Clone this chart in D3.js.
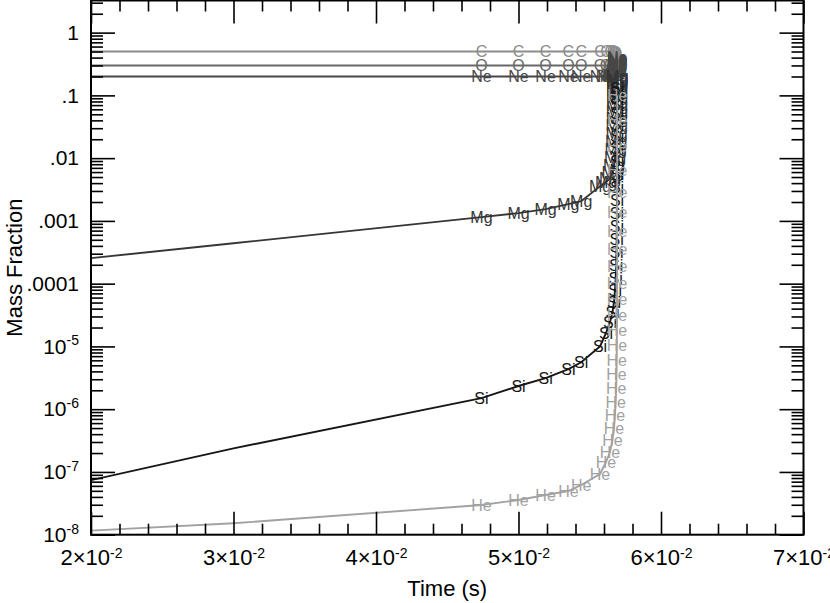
<!DOCTYPE html>
<html>
<head>
<meta charset="utf-8">
<script src="https://cdn.jsdelivr.net/npm/d3@7"></script>
<style>
  body { margin: 0; background: #fff; }
  text { font-family: "Liberation Sans", Arial, Helvetica, sans-serif; }
</style>
</head>
<body>
<svg id="chart" width="830" height="603"></svg>
<script>
// time steps (s) of the burn; the last ones pile up near the runaway
var times = [0.02, 0.03, 0.0474, 0.0500, 0.0519, 0.0535, 0.0544,
  0.055719, 0.056140, 0.056421, 0.056596, 0.056702, 0.056772, 0.056821, 0.056856,
  0.056877, 0.056891, 0.056902, 0.056909, 0.056914, 0.056917, 0.056919, 0.056921,
  0.056922, 0.056923, 0.056924, 0.056925, 0.056926, 0.056927, 0.056928, 0.056929];

var carbon = [0.5, 0.5, 0.5, 0.5, 0.5, 0.5, 0.5,
  0.50, 0.50, 0.50, 0.50, 0.49, 0.49, 0.47, 0.45, 0.44, 0.42, 0.41, 0.39,
  0.38, 0.36, 0.35, 0.34, 0.33, 0.31, 0.30, 0.29, 0.28, 0.27, 0.26, 0.25];

var oxygen = [0.3, 0.3, 0.3, 0.3, 0.3, 0.3, 0.3,
  0.30, 0.30, 0.30, 0.30, 0.30, 0.30, 0.29, 0.29, 0.29, 0.28, 0.28, 0.28,
  0.27, 0.27, 0.27, 0.26, 0.26, 0.26, 0.25, 0.25, 0.25, 0.24, 0.24, 0.24];

var neon = [0.2, 0.2, 0.2, 0.2, 0.2, 0.2, 0.2,
  0.20, 0.20, 0.20, 0.21, 0.21, 0.22, 0.23, 0.24, 0.25, 0.26, 0.27, 0.28,
  0.29, 0.30, 0.31, 0.32, 0.33, 0.34, 0.35, 0.36, 0.37, 0.38, 0.39, 0.40];

var magnesium = [2.55e-4, 4.4e-4, 1.15e-3, 1.33e-3, 1.54e-3, 1.85e-3, 2.06e-3,
  3.57e-3, 4.13e-3, 4.79e-3, 5.96e-3, 7.71e-3, 1.03e-2, 1.39e-2, 1.86e-2,
  2.49e-2, 3.34e-2, 4.32e-2, 5.58e-2, 6.95e-2, 8.67e-2, 0.104, 0.121,
  0.140, 0.156, 0.168, 0.181, 0.187, 0.194, 0.201, 0.201];

var silicon = [7.4e-8, 2.38e-7, 1.5e-6, 2.34e-6, 3.13e-6, 4.35e-6, 5.6e-6,
  1.0e-5, 1.63e-5, 2.44e-5, 3.52e-5, 5.08e-5, 7.9e-5, 1.22e-4, 1.97e-4,
  3.18e-4, 5.1e-4, 8.2e-4, 1.33e-3, 2.13e-3, 3.44e-3, 5.5e-3, 8.9e-3,
  1.44e-2, 2.23e-2, 3.47e-2, 5.2e-2, 7.2e-2, 9.3e-2, 0.112, 0.13];

var helium = [1.16e-8, 1.52e-8, 2.97e-8, 3.57e-8, 4.29e-8, 4.96e-8, 6.2e-8,
  9.26e-8, 1.44e-7, 2.08e-7, 3.22e-7, 5.0e-7, 8.05e-7, 1.30e-6, 2.17e-6,
  3.62e-6, 6.05e-6, 1.05e-5, 1.82e-5, 3.15e-5, 5.66e-5, 1.02e-4, 1.90e-4,
  3.54e-4, 6.85e-4, 1.38e-3, 2.86e-3, 6.42e-3, 1.55e-2, 4.02e-2, 0.100];

var names = ["C", "O", "Ne", "Mg", "Si", "He"];
var colors = ["#8c8c8c", "#686868", "#474747", "#363636", "#161616", "#a2a2a2"];

var xMajor = [0.02, 0.03, 0.04, 0.05, 0.06, 0.07];
var yMajorExp = [-8, -7, -6, -5, -4, -3, -2, -1, 0];

var svg = d3.select("#chart"),
    plotLeft = 91, plotRight = 803.5, plotTop = 0.5, plotBottom = 534.7;

var x = d3.scaleLinear().domain([0.02, 0.07]).range([plotLeft, plotRight]);
var y = d3.scaleLog().domain([1e-8, 3.25]).range([plotBottom, plotTop]);

var xMinor = d3.range(10, 36).filter(function(i) { return i % 5 !== 0; })
    .map(function(i) { return i / 500; });
var yMinor = [];
yMajorExp.forEach(function(e) {
  for (var m = 2; m <= 9; m++) {
    var v = m * Math.pow(10, e);
    if (v <= 3.25) yMinor.push(v);
  }
});
var yMajor = yMajorExp.map(function(e) { return Math.pow(10, e); });

// curves
svg.append("clipPath").attr("id", "plot")
  .append("rect").attr("x", plotLeft).attr("y", plotTop)
  .attr("width", plotRight - plotLeft).attr("height", plotBottom - plotTop);

var series = [carbon, oxygen, neon, magnesium, silicon, helium];
var line = d3.line()
  .x(function(d) { return x(d[0]); })
  .y(function(d) { return y(d[1]); });

var curves = svg.append("g").attr("clip-path", "url(#plot)");
series.forEach(function(vals, k) {
  var pts = times.map(function(t, i) { return [t, vals[i]]; });
  curves.append("path")
    .attr("d", line(pts))
    .attr("fill", "none")
    .attr("stroke", colors[k])
    .attr("stroke-width", 1.9);
  curves.selectAll(null)
    .data(pts.filter(function(p) { return p[0] > 0.04; }))
    .enter().append("text")
    .attr("x", function(d) { return x(d[0]); })
    .attr("y", function(d) { return y(d[1]); })
    .attr("dy", "0.36em")
    .attr("text-anchor", "middle")
    .attr("font-size", 16)
    .attr("fill", colors[k])
    .text(names[k]);
});

// axes: ticks point inward on all four sides
function styleAxis(g) {
  g.select(".domain").remove();
  g.selectAll(".tick line").attr("stroke", "#000").attr("stroke-width", 1.6);
}

svg.append("g").attr("transform", "translate(0," + plotBottom + ")")
  .call(d3.axisBottom(x).tickValues(xMinor).tickSizeInner(-11).tickSizeOuter(0).tickFormat(""))
  .call(styleAxis);
var xAx = svg.append("g").attr("transform", "translate(0," + plotBottom + ")")
  .call(d3.axisBottom(x).tickValues(xMajor).tickSizeInner(-23).tickSizeOuter(0).tickPadding(15))
  .call(styleAxis);
xAx.selectAll(".tick text").each(function(d) {
  var t = d3.select(this).text(null)
    .attr("font-size", 22).attr("fill", "#000");
  t.append("tspan").text(Math.round(d * 100) + "\u00d710");
  t.append("tspan").attr("font-size", 14).attr("dy", "-0.55em").text("-2");
});

svg.append("g").attr("transform", "translate(0," + plotTop + ")")
  .call(d3.axisBottom(x).tickValues(xMinor).tickSizeInner(11).tickSizeOuter(0).tickFormat(""))
  .call(styleAxis);
svg.append("g").attr("transform", "translate(0," + plotTop + ")")
  .call(d3.axisBottom(x).tickValues(xMajor).tickSizeInner(23).tickSizeOuter(0).tickFormat(""))
  .call(styleAxis);

svg.append("g").attr("transform", "translate(" + plotLeft + ",0)")
  .call(d3.axisLeft(y).tickValues(yMinor).tickSizeInner(-12).tickSizeOuter(0).tickFormat(""))
  .call(styleAxis);
var yAx = svg.append("g").attr("transform", "translate(" + plotLeft + ",0)")
  .call(d3.axisLeft(y).tickValues(yMajor).tickSizeInner(-24).tickSizeOuter(0).tickPadding(12))
  .call(styleAxis);
yAx.selectAll(".tick text").each(function(d) {
  var e = Math.round(Math.log10(d));
  var t = d3.select(this).text(null)
    .attr("font-size", 21).attr("fill", "#000");
  if (e === 0) t.text("1");
  else if (e >= -4) t.text("." + "0".repeat(-e - 1) + "1");
  else {
    t.append("tspan").text("10");
    t.append("tspan").attr("font-size", 14).attr("dy", "-0.6em").text(String(e));
  }
});

svg.append("g").attr("transform", "translate(" + plotRight + ",0)")
  .call(d3.axisLeft(y).tickValues(yMinor).tickSizeInner(12).tickSizeOuter(0).tickFormat(""))
  .call(styleAxis);
svg.append("g").attr("transform", "translate(" + plotRight + ",0)")
  .call(d3.axisLeft(y).tickValues(yMajor).tickSizeInner(24).tickSizeOuter(0).tickFormat(""))
  .call(styleAxis);

// frame
svg.append("rect")
  .attr("x", plotLeft).attr("y", plotTop)
  .attr("width", plotRight - plotLeft).attr("height", plotBottom - plotTop)
  .attr("fill", "none").attr("stroke", "#000").attr("stroke-width", 2);

// titles
svg.append("text")
  .attr("x", (plotLeft + plotRight) / 2).attr("y", 596)
  .attr("text-anchor", "middle").attr("font-size", 22)
  .text("Time (s)");
svg.append("text")
  .attr("transform", "translate(22," + (plotBottom + plotTop) / 2 + ") rotate(-90)")
  .attr("text-anchor", "middle").attr("font-size", 22)
  .text("Mass Fraction");
</script>
</body>
</html>
